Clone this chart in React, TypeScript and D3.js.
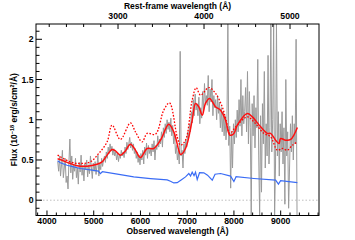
import React from 'react';
import * as d3 from 'd3';

// spectrum is plotted in observed frame, rest frame on the top axis
const REDSHIFT = 0.84;

const OBS_TICKS = [4000, 5000, 6000, 7000, 8000, 9000];
const REST_TICKS = [3000, 4000, 5000];
const FLUX_TICKS = [0, 0.5, 1, 1.5, 2];

// observed spectrum, sampled every 20 A from 4230 A
const GRAY_START = 4230;
const GRAY_STEP = 20;
const GRAY_FLUX = [
  0.48, 0.36, 0.55, 0.30, 0.44, 0.62, 0.28, 0.40, 0.52, 0.22,
  0.30, 0.14, 0.48, 0.76, 0.34, 0.55, 0.26, 0.44, 0.36, 0.52,
  0.28, 0.40, 0.20, 0.47, 0.35, 0.56, 0.31, 0.43, 0.24, 0.45,
  0.38, 0.50, 0.29, 0.44, 0.33, 0.55, 0.40, 0.27, 0.46, 0.36,
  0.48, 0.32, 0.43, 0.56, 0.30, 0.45, 0.38, 0.52, 0.42, 0.50,
  0.55, 0.47, 0.60, 0.52, 0.66, 0.58, 0.70, 0.61, 0.67, 0.56,
  0.64, 0.55, 0.60, 0.50, 0.58, 0.48, 0.57, 0.52, 0.62, 0.55,
  0.60, 0.53, 0.66, 0.58, 0.72, 0.63, 0.70, 0.78, 0.65, 0.72,
  0.62, 0.70, 0.58, 0.64, 0.52, 0.60, 0.47, 0.56, 0.44, 0.58,
  0.50, 0.62, 0.45, 0.66, 0.56, 0.71, 0.52, 0.68, 0.58, 0.64,
  0.55, 0.70, 0.60, 0.74, 0.50, 0.68, 0.63, 0.80, 0.66, 0.76,
  0.70, 0.85, 0.66, 0.90, 0.78, 0.95, 0.83, 1.00, 0.88, 0.97,
  0.85, 1.02, 0.80, 0.93, 0.70, 0.82, 0.58, 0.68, 0.50, 0.62,
  0.45, 1.85, 0.55, 0.62, 0.40, 0.70, 0.58, 0.75, 0.66, 0.85,
  0.78, 0.95, 0.85, 1.10, 0.96, 1.25, 1.05, 1.32, 1.12, 1.20,
  1.05, 1.28, 0.95, 1.15, 1.02, 1.35, 1.12, 1.45, 1.20, 1.30,
  1.18, 1.55, 1.10, 1.38, 1.22, 1.50, 1.05, 1.30, 1.15, 1.25,
  1.00, 1.30, 1.08, 1.22, 0.90, 1.15, 0.85, 1.10, 0.80, 1.05,
  0.75, 0.95, 2.20, 0.68, 0.92, 0.15, 0.85, 0.40, 0.95, 0.70,
  1.00, 0.78, 1.12, 0.85, 1.25, 0.92, 1.50, 0.80, 1.30, 0.95,
  1.10, 1.40, 0.85, 1.60, 0.70, 1.35, 0.90, -0.20, 1.20, 0.80,
  1.30, 0.65, 1.15, 0.90, 1.75, 0.55, -0.20, 1.05, 0.10, 1.20,
  0.70, 1.60, 0.40, 0.95, 0.55, 1.80, 0.45, 0.90, 2.20, 0.60,
  1.00, 2.20, -0.20, 0.45, 2.20, 0.55, 1.10, 0.30, 0.95, 0.60,
  1.10, 0.45, 0.90, -0.05, 1.50, 0.55, 0.85, -0.10, 0.40, 0.95,
  0.60, 1.05, 0.50, 0.95, 0.70, 2.00, -0.20,
];

// best fit model (red solid)
const MODEL_WAVE = [
  4227, 4285, 4392, 4499, 4643, 4857, 5072, 5179, 5286, 5393, 5464, 5571,
  5678, 5785, 5892, 5999, 6143, 6284, 6428, 6606, 6713, 6820, 6857, 6964,
  7107, 7178, 7249, 7322, 7393, 7478, 7607, 7714, 7821, 7913, 7999, 8072,
  8286, 8393, 8571, 8715, 8785, 8892, 8963, 8999, 9107, 9214, 9357,
];
const MODEL_FLUX = [
  0.516, 0.506, 0.479, 0.456, 0.429, 0.423, 0.448, 0.476, 0.56, 0.631, 0.613, 0.56,
  0.613, 0.697, 0.622, 0.531, 0.643, 0.643, 0.746, 0.945, 0.85, 0.622, 0.568, 0.643,
  0.995, 1.203, 1.16, 1.057, 1.206, 1.265, 1.16, 1.119, 0.995, 0.808, 0.83, 0.933,
  1.078, 1.036, 0.912, 0.83, 0.83, 0.746, 0.705, 0.767, 0.746, 0.755, 0.904,
];

// alternative model (red dotted)
const ALT_WAVE = [
  4227, 4499, 4714, 4928, 5106, 5286, 5393, 5571, 5785, 5892, 6036, 6143,
  6321, 6499, 6621, 6786, 6857, 6964, 7107, 7193, 7285, 7463, 7607, 7750,
  7830, 7913, 8036, 8286, 8427, 8642, 8785, 8929, 9036, 9143, 9250, 9357,
];
const ALT_FLUX = [
  0.56, 0.477, 0.456, 0.477, 0.58, 0.725, 0.933, 0.755, 0.961, 0.85, 0.725, 0.83,
  0.82, 1.12, 1.21, 0.787, 0.684, 0.746, 1.244, 1.397, 1.306, 1.4, 1.327, 1.16,
  1.0, 0.83, 0.91, 1.036, 0.974, 0.83, 0.787, 0.622, 0.643, 0.622, 0.684, 0.725,
];

// stellar component (blue)
const STAR_WAVE = [
  4227, 4285, 4429, 4570, 4714, 4928, 5099, 5142, 5185, 5571, 5856, 6214,
  6572, 6642, 6713, 6786, 6878, 6964, 7035, 7071, 7107, 7146, 7178, 7214,
  7264, 7356, 7435, 7536, 7596, 7714, 7928, 7999, 8046, 8427, 8892, 8952,
  8999, 9357,
];
const STAR_FLUX = [
  0.49, 0.466, 0.435, 0.414, 0.394, 0.376, 0.361, 0.33, 0.354, 0.317, 0.29, 0.269,
  0.252, 0.236, 0.215, 0.218, 0.255, 0.29, 0.332, 0.3, 0.348, 0.305, 0.348, 0.257,
  0.342, 0.34, 0.311, 0.249, 0.323, 0.332, 0.3, 0.233, 0.292, 0.27, 0.249, 0.2,
  0.243, 0.218,
];

const W = 355;
const H = 240;
const left = 36;
const right = 319;
const top = 24;
const bottom = 215.5;
const font = '"Liberation Sans", Arial, Helvetica, sans-serif';

const App: React.FC = () => {
  const x = d3.scaleLinear().domain([3765, 9820]).range([left, right]);
  const y = d3.scaleLinear().domain([-0.19, 2.19]).range([bottom, top]);
  const xRest = (r: number) => x(r * (1 + REDSHIFT));

  const line = d3
    .line<[number, number]>()
    .x((d) => x(d[0]))
    .y((d) => y(d[1]));
  const smooth = d3
    .line<[number, number]>()
    .curve(d3.curveCatmullRom.alpha(0.5))
    .x((d) => x(d[0]))
    .y((d) => y(d[1]));

  const gray = GRAY_FLUX.map((f, i) => [GRAY_START + i * GRAY_STEP, f] as [number, number]);
  const model = MODEL_WAVE.map((w, i) => [w, MODEL_FLUX[i]] as [number, number]);
  const alt = ALT_WAVE.map((w, i) => [w, ALT_FLUX[i]] as [number, number]);
  const star = STAR_WAVE.map((w, i) => [w, STAR_FLUX[i]] as [number, number]);

  const obsMinor = d3.range(3800, 9801, 200).filter((v) => v % 1000 !== 0);
  const restMinor = d3.range(2200, 5301, 200).filter((v) => v % 1000 !== 0);
  const fluxMinor = d3.range(-1, 22).map((v) => v / 10).filter((v) => Math.round(v * 10) % 5 !== 0);

  return (
    <svg
      width={W}
      height={H}
      style={{ position: 'absolute', left: 0, top: 0, background: '#fff' }}
      fontFamily={font}
    >
      <defs>
        <clipPath id="plot">
          <rect x={left} y={top} width={right - left} height={bottom - top} />
        </clipPath>
      </defs>

      <g clipPath="url(#plot)">
        <line
          x1={left}
          x2={right}
          y1={y(0)}
          y2={y(0)}
          stroke="#b0b0b0"
          strokeWidth={0.8}
          strokeDasharray="1.5 2"
        />
        <path d={line(gray)!} fill="none" stroke="#9a9a9a" strokeWidth={1} />
        <path d={line(star)!} fill="none" stroke="#3a6cf5" strokeWidth={1.2} />
        <path d={smooth(alt)!} fill="none" stroke="#ff0000" strokeWidth={1.3} strokeDasharray="1.6 1.6" />
        <path d={smooth(model)!} fill="none" stroke="#ff1010" strokeWidth={1.5} />
      </g>

      {/* frame */}
      <rect x={left} y={top} width={right - left} height={bottom - top} fill="none" stroke="#000" strokeWidth={1} />

      {/* bottom axis */}
      {OBS_TICKS.map((t) => (
        <g key={'ob' + t}>
          <line x1={x(t)} x2={x(t)} y1={bottom} y2={bottom - 5} stroke="#000" />
          <text x={x(t)} y={224} fontSize={8.7} fontWeight="bold" textAnchor="middle">
            {t}
          </text>
        </g>
      ))}
      {obsMinor.map((t) => (
        <line key={'om' + t} x1={x(t)} x2={x(t)} y1={bottom} y2={bottom - 3} stroke="#000" />
      ))}
      <text x={(left + right) / 2} y={233.5} fontSize={8.5} fontWeight="bold" textAnchor="middle">
        Observed wavelength (Å)
      </text>

      {/* top axis, rest frame */}
      {REST_TICKS.map((t) => (
        <g key={'rt' + t}>
          <line x1={xRest(t)} x2={xRest(t)} y1={top} y2={top + 5} stroke="#000" />
          <text x={xRest(t)} y={19.3} fontSize={8.7} fontWeight="bold" textAnchor="middle">
            {t}
          </text>
        </g>
      ))}
      {restMinor.map((t) => (
        <line key={'rm' + t} x1={xRest(t)} x2={xRest(t)} y1={top} y2={top + 3} stroke="#000" />
      ))}
      <text x={(left + right) / 2} y={9} fontSize={8.5} fontWeight="bold" textAnchor="middle">
        Rest-frame wavelength (Å)
      </text>

      {/* left axis */}
      {FLUX_TICKS.map((t) => (
        <g key={'fl' + t}>
          <line x1={left} x2={left + 6} y1={y(t)} y2={y(t)} stroke="#000" />
          <text x={33.5} y={y(t)} dy="0.35em" fontSize={8.7} fontWeight="bold" textAnchor="end">
            {t}
          </text>
        </g>
      ))}
      {fluxMinor.map((t) => (
        <line key={'fm' + t} x1={left} x2={left + 3.5} y1={y(t)} y2={y(t)} stroke="#000" />
      ))}
      <text
        transform="translate(17,119.7) rotate(-90)"
        fontSize={8.5}
        fontWeight="bold"
        textAnchor="middle"
      >
        Flux (10
        <tspan fontSize={5.5} dy={-3.5}>
          −18
        </tspan>
        <tspan dy={3.5}> erg/s/cm</tspan>
        <tspan fontSize={5.5} dy={-3.5}>
          2
        </tspan>
        <tspan dy={3.5}>/Å)</tspan>
      </text>
    </svg>
  );
};

export default App;
